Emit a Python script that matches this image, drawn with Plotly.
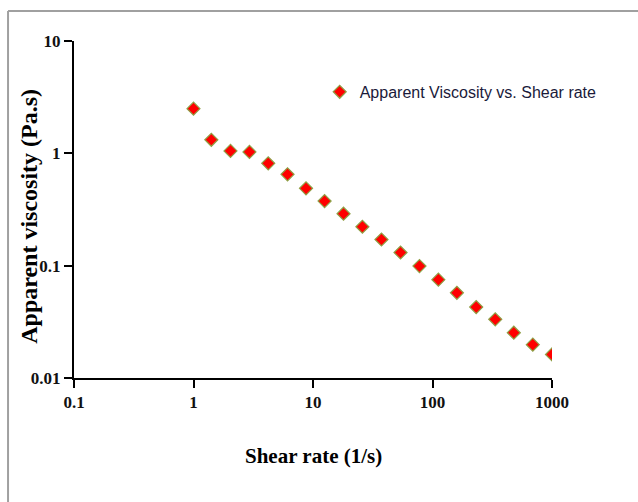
import plotly.graph_objects as go

shear_rate = [1.0, 1.41, 2.04, 2.94, 4.22, 6.12, 8.74, 12.5, 18.0, 25.9,
              37.4, 54.0, 77.8, 112, 160, 232, 335, 479, 691, 1000]
viscosity = [2.50, 1.32, 1.05, 1.03, 0.815, 0.650, 0.488, 0.376, 0.290, 0.222,
             0.171, 0.131, 0.0991, 0.0750, 0.0573, 0.0428, 0.0333, 0.0253, 0.0198, 0.0162]
x_ticks = [0.1, 1, 10, 100, 1000]
x_tick_labels = ["0.1", "1", "10", "100", "1000"]
y_ticks = [0.01, 0.1, 1, 10]
y_tick_labels = ["0.01", "0.1", "1", "10"]
series_name = "Apparent Viscosity vs. Shear rate"
x_title = "Shear rate (1/s)"
y_title = "Apparent viscosity (Pa.s)"

fig = go.Figure()
fig.add_trace(go.Scatter(
    x=shear_rate, y=viscosity, mode="markers", name=series_name,
    marker=dict(symbol="diamond", size=10, color="#ff0000",
                line=dict(color="#8f9f45", width=1.2)),
    showlegend=True,
))

serif = "Liberation Serif"
tickfont = dict(family=serif, size=17, color="#111111", weight="bold")
fig.update_layout(
    width=638, height=502,
    margin=dict(l=74, r=86, t=41, b=124),
    paper_bgcolor="white", plot_bgcolor="white",
    showlegend=True,
    legend=dict(x=0.514, y=0.849, xanchor="left", yanchor="middle",
                font=dict(family="Liberation Sans", size=16, color="#1a1a3a"),
                bgcolor="rgba(0,0,0,0)", itemwidth=30),
    xaxis=dict(type="log", range=[-1, 3], tickvals=x_ticks, ticktext=x_tick_labels,
               showgrid=False, zeroline=False, showline=True, linecolor="black",
               linewidth=2, ticks="outside", ticklen=8, tickwidth=2, tickcolor="black",
               tickfont=tickfont),
    yaxis=dict(type="log", range=[-2, 1], tickvals=y_ticks, ticktext=y_tick_labels,
               showgrid=False, zeroline=False, showline=True, linecolor="black",
               linewidth=2, ticks="outside", ticklen=8, tickwidth=2, tickcolor="black",
               tickfont=tickfont),
    annotations=[
        dict(text="<b>" + x_title + "</b>", xref="paper", yref="paper",
             x=0.5, y=-0.2315, xanchor="center", yanchor="middle", showarrow=False,
             font=dict(family=serif, size=21, color="black")),
        dict(text="<b>" + y_title + "</b>", xref="paper", yref="paper",
             x=-0.093, y=0.48, xanchor="center", yanchor="middle", showarrow=False,
             textangle=-90, font=dict(family=serif, size=24, color="black")),
    ],
    shapes=[
        dict(type="line", xref="paper", yref="paper", x0=-0.138, x1=1.3,
             y0=1.089, y1=1.089, line=dict(color="#a0a0a0", width=2), layer="below"),
        dict(type="line", xref="paper", yref="paper", x0=-0.138, x1=-0.138,
             y0=-0.6, y1=1.089, line=dict(color="#a0a0a0", width=2), layer="below"),
    ],
)

fig.write_html("out.html")
